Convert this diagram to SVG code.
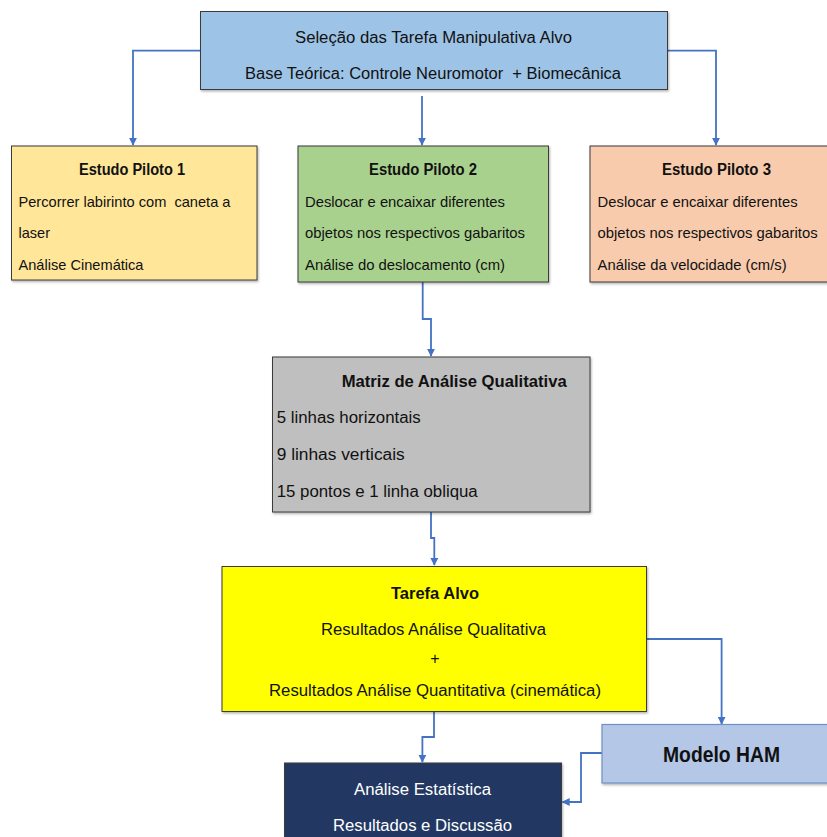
<svg xmlns="http://www.w3.org/2000/svg" width="827" height="837" viewBox="0 0 827 837">
  <defs>
    <marker id="arrow" viewBox="0 0 10 10" refX="9" refY="5" markerWidth="8" markerHeight="8" markerUnits="userSpaceOnUse" orient="auto">
      <path d="M0,0 L10,5 L0,10 z" fill="#4472C4"/>
    </marker>
    <filter id="shadow" x="-5%" y="-5%" width="115%" height="120%">
      <feDropShadow dx="1" dy="1.5" stdDeviation="1" flood-color="#000" flood-opacity="0.3"/>
    </filter>
    <style>
      .box { stroke: #3a3a3a; stroke-width: 1; filter: url(#shadow); }
      .t { font-family: "Liberation Sans", Arial, sans-serif; fill: #111; }
      .b { font-weight: bold; }
      .c { text-anchor: middle; }
      .w { fill: #fff; }
      .link { fill: none; stroke: #4472C4; stroke-width: 1.8; marker-end: url(#arrow); }
    </style>
  </defs>
  <rect width="827" height="837" fill="#fff"/>

  <g id="connectors">
    <path class="link" d="M200,50.7 H133 V145"/>
    <path class="link" d="M422,96 V145"/>
    <path class="link" d="M668,50.7 H716 V145"/>
    <path class="link" d="M422.7,282 V319 H431 V356"/>
    <path class="link" d="M431,512 V538 H434.3 V565"/>
    <path class="link" d="M646.8,639 H721.6 V724"/>
    <path class="link" d="M434,711.7 V737 H422.4 V762"/>
    <path class="link" d="M602,753 H581 V802 H562.5"/>
  </g>

  <g id="selecao">
    <rect class="box" x="200.5" y="11.5" width="467" height="78" fill="#9DC3E6"/>
    <text class="t" x="295" y="42.7" font-size="16" textLength="277" lengthAdjust="spacingAndGlyphs">Seleção das Tarefa Manipulativa Alvo</text>
    <text class="t" x="245" y="79" font-size="16" textLength="376" lengthAdjust="spacingAndGlyphs" xml:space="preserve">Base Teórica: Controle Neuromotor  + Biomecânica</text>
  </g>

  <g id="piloto1">
    <rect class="box" x="11.5" y="146" width="245.5" height="134" fill="#FFE699"/>
    <text class="t b" x="79" y="175" font-size="16" textLength="106" lengthAdjust="spacingAndGlyphs">Estudo Piloto 1</text>
    <text class="t" x="18.5" y="206.7" font-size="15" textLength="212" lengthAdjust="spacingAndGlyphs" xml:space="preserve">Percorrer labirinto com  caneta a</text>
    <text class="t" x="18.5" y="237.8" font-size="15" textLength="31.5" lengthAdjust="spacingAndGlyphs">laser</text>
    <text class="t" x="18.5" y="270" font-size="15" textLength="125" lengthAdjust="spacingAndGlyphs">Análise Cinemática</text>
  </g>

  <g id="piloto2">
    <rect class="box" x="298" y="146" width="250.5" height="136" fill="#A9D18E"/>
    <text class="t b" x="369" y="175" font-size="16" textLength="108" lengthAdjust="spacingAndGlyphs">Estudo Piloto 2</text>
    <text class="t" x="305" y="206.7" font-size="15" textLength="200" lengthAdjust="spacingAndGlyphs">Deslocar e encaixar diferentes</text>
    <text class="t" x="305" y="237.8" font-size="15" textLength="220" lengthAdjust="spacingAndGlyphs">objetos nos respectivos gabaritos</text>
    <text class="t" x="305" y="270" font-size="15" textLength="200" lengthAdjust="spacingAndGlyphs">Análise do deslocamento (cm)</text>
  </g>

  <g id="piloto3">
    <rect class="box" x="590" y="146" width="245" height="136" fill="#F8CBAD"/>
    <text class="t b" x="662" y="175" font-size="16" textLength="109" lengthAdjust="spacingAndGlyphs">Estudo Piloto 3</text>
    <text class="t" x="597.6" y="206.7" font-size="15" textLength="200" lengthAdjust="spacingAndGlyphs">Deslocar e encaixar diferentes</text>
    <text class="t" x="597.6" y="237.8" font-size="15" textLength="220" lengthAdjust="spacingAndGlyphs">objetos nos respectivos gabaritos</text>
    <text class="t" x="597.6" y="270" font-size="15" textLength="189" lengthAdjust="spacingAndGlyphs">Análise da velocidade (cm/s)</text>
  </g>

  <g id="matriz">
    <rect class="box" x="272.5" y="357" width="317.5" height="155" fill="#BFBFBF"/>
    <text class="t b" x="341.7" y="387.3" font-size="17" textLength="225" lengthAdjust="spacingAndGlyphs">Matriz de Análise Qualitativa</text>
    <text class="t" x="276.7" y="423.3" font-size="16" textLength="144" lengthAdjust="spacingAndGlyphs">5 linhas horizontais</text>
    <text class="t" x="276.7" y="460" font-size="16" textLength="128" lengthAdjust="spacingAndGlyphs">9 linhas verticais</text>
    <text class="t" x="276.7" y="496.7" font-size="16" textLength="201" lengthAdjust="spacingAndGlyphs">15 pontos e 1 linha obliqua</text>
  </g>

  <g id="tarefa-alvo">
    <rect class="box" x="222" y="566.5" width="424.5" height="145" fill="#FFFF00"/>
    <text class="t b" x="391" y="599.3" font-size="17" textLength="88" lengthAdjust="spacingAndGlyphs">Tarefa Alvo</text>
    <text class="t" x="321" y="635" font-size="16" textLength="225" lengthAdjust="spacingAndGlyphs">Resultados Análise Qualitativa</text>
    <text class="t c" x="434.8" y="663.5" font-size="16">+</text>
    <text class="t" x="269" y="695.7" font-size="16" textLength="332" lengthAdjust="spacingAndGlyphs">Resultados Análise Quantitativa (cinemática)</text>
  </g>

  <g id="modelo-ham">
    <rect x="602" y="724.5" width="235" height="58.5" fill="#B4C7E7" stroke="#6F8FC4" stroke-width="1.2" filter="url(#shadow)"/>
    <text class="t b" x="663" y="762.3" font-size="22" textLength="117" lengthAdjust="spacingAndGlyphs">Modelo HAM</text>
  </g>

  <g id="analise-estatistica">
    <rect class="box" x="284.5" y="763" width="277" height="85" fill="#203864" stroke="#111"/>
    <text class="t w" x="354" y="795" font-size="16" textLength="137" lengthAdjust="spacingAndGlyphs">Análise Estatística</text>
    <text class="t w" x="333" y="830.7" font-size="16" textLength="179" lengthAdjust="spacingAndGlyphs">Resultados e Discussão</text>
  </g>
</svg>
